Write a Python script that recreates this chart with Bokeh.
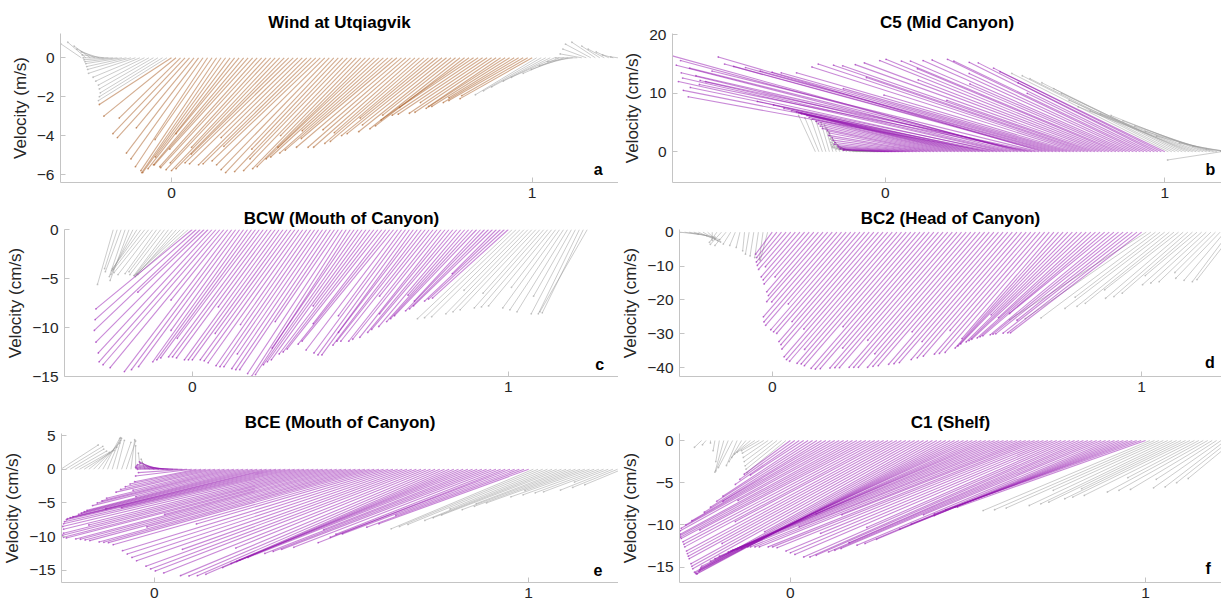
import numpy as np
from bokeh.plotting import figure
from bokeh.models import ColumnDataSource, FixedTicker, Label, Range1d, Title
from bokeh.layouts import column, row
from bokeh.embed import file_html
from bokeh.resources import INLINE

# sample times in hours relative to the start of the event (event lasts 80 h, shown normalised 0..1)
hours = [-20, -19, -18, -17, -16, -15, -14, -13, -12, -11, -10, -9, -8, -7, -6, -5, -4, -3, -2, -1,
         0, 1, 2, 3, 4, 5, 6, 7, 8, 9, 10, 11, 12, 13, 14, 15, 16, 17, 18, 19,
         20, 21, 22, 23, 24, 25, 26, 27, 28, 29, 30, 31, 32, 33, 34, 35, 36, 37, 38, 39,
         40, 41, 42, 43, 44, 45, 46, 47, 48, 49, 50, 51, 52, 53, 54, 55, 56, 57, 58, 59,
         60, 61, 62, 63, 64, 65, 66, 67, 68, 69, 70, 71, 72, 73, 74, 75, 76, 77, 78, 79,
         80, 81, 82, 83, 84, 85, 86, 87, 88, 89, 90, 91, 92, 93, 94, 95, 96, 97, 98, 99, 100]
EVENT_HOURS = 80
U_SCALE = 0.01  # stick length along the time axis per unit of the east component

# ---- a: wind at Utqiagvik (m/s)
u_a = [-5.7, -5, -4.5, -5, -5, -6, -7, -8, -9, -10,
       -11, -12, -13, -13, -13.5, -14, -15, -16, -17.5, -19,
       -20, -20, -17, -20, -20, -16, -20, -20, -20, -15.8,
       -21, -22, -23, -20.7, -24, -17.5, -25, -26, -23, -27,
       -28, -26.6, -29, -23.2, -30, -30, -27, -30, -30, -22.5,
       -30, -30, -25.5, -30, -30, -30, -30, -24, -30, -27,
       -30, -21, -30, -30, -25.5, -30, -30, -22.5, -30, -29.7,
       -26.5, -29.1, -23, -28.4, -28.1, -23.6, -27.5, -27.2, -20.2, -26.6,
       -26.3, -23.3, -25.6, -20.2, -25, -24.7, -24.4, -20.5, -23.8, -23.4,
       -18.5, -22.8, -22.5, -20, -21.9, -21.6, -18.1, -20.9, -20.6, -18.3,
       -20,
       -17, -16, -15, -13, -12, -10, -9, -8, -7, -6,
       -6, -6.5, -7, -6.5, -5, -4.5, -3.5, -3, -2, -1]
v_a = [0.72, 0.8, 0.6, 0.45, 0.3, 0.15, 0.0, -0.1, -0.2, -0.3,
       -0.45, -0.6, -0.8, -1.0, -1.2, -1.4, -1.6, -1.8, -2.0, -2.2,
       -2.4, -3.0, -3.1, -3.9, -4.1, -3.6, -4.9, -5.2, -5.6, -4.2,
       -5.8, -5.9, -5.9, -5.1, -5.7, -3.9, -5.5, -5.5, -4.7, -5.6,
       -5.65, -5.4, -5.75, -4.6, -5.8, -5.7, -4.95, -5.4, -5.45, -4.1,
       -5.5, -5.45, -4.55, -5.3, -5.5, -5.75, -5.9, -4.7, -5.85, -5.2,
       -5.8, -4.0, -5.7, -5.6, -4.6, -5.2, -5.1, -3.75, -4.9, -4.75,
       -4.15, -4.6, -3.7, -4.6, -4.6, -3.85, -4.4, -4.3, -3.1, -4.0,
       -3.9, -3.45, -3.8, -2.95, -3.65, -3.5, -3.2, -2.55, -2.95, -2.9,
       -2.3, -2.85, -2.8, -2.5, -2.6, -2.5, -2.05, -2.3, -2.2, -1.95,
       -2.1,
       -1.9, -1.7, -1.5, -1.2, -1.0, -0.8, -0.6, -0.4, -0.2, 0.0,
       0.2, 0.45, 0.7, 0.8, 0.6, 0.45, 0.3, 0.15, 0.05, 0.0]

# ---- b: C5 (Mid Canyon), cm/s
u_b = [-6, -5, -4, -3.5, -3, -3, -3.5, -4, -5, -6,
       -7, -8, -9, -10, -10, -10, -10, -10, -10, -10,
       -15, -16, -17.5, -20, -21, -23, -24.5, -27, -28, -30,
       -31.5, -34, -35, -37, -40, -42, -44, -46, -48.5, -51,
       -53, -55, -57.5, -59, -61, -63, -66, -70, -75, -82,
       -108, -111, -114, -111, -115, -110, -118, -121, -123.7, -122,
       -120, -119, -119, -118, -117, -116, -115, -113, -110, -106,
       -103, -101, -80, -98, -68, -95, -94, -78, -91, -89,
       -53, -87, -85, -67, -82, -81, -71, -78, -76, -56,
       -74, -72, -60, -69, -68, -43, -65, -63, -50, -60,
       -59,
       -56, -53.5, -52, -49, -46, -44.5, -43, -41, -38, -35.5,
       -33, -30, -27, -24.5, -21.75, -19, -16, -12.5, -9, -5]
v_b = [6.2, 5.8, 5.5, 5.2, 5.0, 4.6, 4.0, 3.4, 2.8, 2.2,
       1.6, 1.2, 0.9, 0.7, 0.5, 0.4, 0.3, 0.25, 0.2, 0.2,
       0.3, 0.35, 0.4, 0.5, 0.6, 0.8, 1.0, 1.3, 1.6, 2.0,
       2.4, 2.8, 3.2, 3.6, 4.0, 4.4, 4.8, 5.2, 5.6, 5.9,
       6.2, 6.4, 6.5, 6.6, 6.7, 6.8, 7.0, 7.4, 8.0, 8.6,
       9.4, 10.5, 12.0, 11.0, 12.6, 12.2, 13.5, 14.8, 16.4, 15.6,
       14.3, 13.0, 11.5, 12.0, 13.8, 16.2, 15.0, 14.6, 14.4, 13.8,
       13.6, 13.5, 10.8, 13.5, 9.7, 14.5, 15.0, 12.7, 14.8, 14.7,
       8.8, 14.9, 15.2, 12.3, 15.6, 15.8, 14.2, 15.5, 15.5, 11.6,
       15.6, 15.7, 13.4, 15.8, 15.5, 10.0, 15.3, 15.2, 11.8, 14.3,
       13.7,
       13.4, 13.0, 12.5, 11.8, 10.8, 10.0, 8.8, 7.7, 7.0, 6.5,
       6.2, 5.3, 4.4, 3.5, 2.7, -1.4, 1.5, 1.0, 0.5, 0.1]

# ---- c: BCW (Mouth of Canyon), cm/s
u_c = [-5, -4, -5, -5, -6, -7, -8, -9, -10, -11,
       -11, -10, -10, -11, -11, -12, -13, -14, -15, -16,
       -30.5, -32, -33.5, -21, -35.5, -36, -37, -37, -36, -18,
       -34, -33, -32, -23, -30, -30, -30, -26, -30, -30,
       -30, -18, -30, -30, -30, -24, -30, -30, -30, -21,
       -30, -30, -30, -27, -30, -30, -30, -20, -30, -30,
       -30, -26, -30, -30, -30, -18, -30, -30, -30, -23,
       -29, -29, -29, -20, -29, -29, -29, -25, -28, -28,
       -28, -17, -28, -28, -27, -22, -27, -27, -26, -18,
       -26, -26, -26, -21, -25, -25, -25, -14, -24, -24,
       -24,
       -30, -29, -28, -19, -26, -25, -24, -18, -22, -21,
       -20, -14, -18, -17, -16, -12, -14, -13, -13, -15]
v_c = [-5.6, -4.0, -4.3, -4.8, -5.2, -4.6, -4.2, -4.0, -4.1, -4.4,
       -4.6, -4.5, -4.3, -4.6, -4.7, -4.7, -4.8, -4.6, -4.5, -4.6,
       -8.1, -9.2, -10.3, -6.4, -11.5, -12.6, -13.5, -13.8, -14.1, -7.2,
       -14.5, -14.3, -14.0, -10.3, -13.5, -13.3, -13.1, -11.1, -13.0, -13.0,
       -13.1, -7.9, -13.3, -13.3, -13.3, -10.6, -13.3, -13.4, -13.6, -9.7,
       -13.9, -14.0, -14.0, -12.7, -14.2, -14.3, -14.3, -9.4, -14.7, -15.0,
       -14.8, -12.1, -13.8, -13.5, -13.3, -7.8, -12.7, -12.5, -12.2, -9.6,
       -11.7, -11.4, -12.3, -8.8, -12.6, -12.8, -12.8, -10.5, -11.8, -11.4,
       -11.4, -6.8, -11.4, -11.2, -11.0, -8.6, -10.5, -10.2, -9.9, -6.7,
       -9.4, -9.1, -8.8, -7.3, -8.3, -8.1, -7.8, -4.5, -7.3, -7.1,
       -7.0,
       -9.1, -9.0, -8.9, -6.2, -8.6, -8.4, -8.2, -6.5, -8.0, -7.9,
       -7.8, -5.9, -8.0, -8.2, -8.4, -6.8, -8.6, -8.6, -8.5, -8.4]

# ---- d: BC2 (Head of Canyon), cm/s
u_d = [5, 6, 7, 7, 6, 4, 2, 0, -2, -3,
       -3, -2, -1.5, -1, -0.5, -1, -1, -1, -1, -2,
       -4.5, -5.5, -6.8, -7.8, -8.7, -8.1, -10.5, -11.2, -12.2, -10.5,
       -14, -14.8, -16.5, -16.4, -19.9, -21, -21.8, -16.9, -22.9, -23.4,
       -23.8, -20.9, -25.7, -26.4, -27.4, -22.7, -29.3, -29.9, -30.3, -27.5,
       -30.8, -30.9, -31.3, -22.1, -32, -32.1, -32, -27.2, -31.9, -31.8,
       -31.8, -25.4, -31.7, -31.7, -31.7, -28.5, -31.7, -31.5, -31.3, -23.4,
       -31, -30.8, -30.6, -25.7, -29.9, -29.5, -29.1, -23.1, -28.6, -28.5,
       -28.2, -24.9, -28, -28.5, -29, -22, -30, -30.5, -31, -25,
       -32, -32.5, -33, -27, -33.5, -34, -34.5, -30, -35, -35,
       -35.5,
       -37, -34, -31, -23, -27, -25, -24, -20, -21, -20,
       -19, -14, -16, -15, -14, -11, -12, -11, -10, -10]
v_d = [-0.6, -1.0, -1.5, -2.2, -2.9, -2.5, -2.0, -2.4, -3.0, -3.6,
       -3.9, -3.5, -3.9, -4.5, -5.5, -6.5, -7.0, -7.5, -8.0, -8.3,
       -6.5, -7.5, -8.8, -9.8, -11.0, -10.2, -13.2, -14.1, -15.3, -13.2,
       -17.6, -18.7, -20.5, -20.6, -25.0, -26.5, -27.5, -21.2, -28.8, -29.4,
       -29.9, -26.4, -32.3, -33.2, -34.5, -28.6, -36.8, -37.6, -38.1, -34.6,
       -38.7, -38.9, -39.4, -27.9, -40.2, -40.4, -40.3, -34.2, -40.1, -40.0,
       -40.0, -31.9, -39.9, -39.9, -39.9, -35.9, -39.9, -39.6, -39.4, -29.4,
       -39.0, -38.8, -38.5, -32.3, -37.6, -37.1, -36.6, -29.0, -36.0, -35.8,
       -35.5, -31.4, -34.2, -33.6, -33.0, -24.4, -32.4, -32.0, -31.6, -25.2,
       -31.2, -30.9, -30.6, -24.0, -30.3, -30.1, -30.0, -26.0, -29.8, -29.7,
       -29.7,
       -25.8, -25.5, -25.3, -19.2, -22.5, -21.9, -21.0, -17.0, -19.5, -19.0,
       -18.0, -12.8, -15.5, -15.0, -14.6, -11.9, -13.6, -14.2, -14.6, -14.0]

# ---- e: BCE (Mouth of Canyon), cm/s
u_e = [10, 10, 9, 8.5, 8, 8, 7.5, 7, 6, 4.5,
       3.5, 2.5, 2, 2.5, 2.5, 1, 0, -0.5, -1, -2,
       -4, -5, -7, -8.5, -10, -11, -12, -13, -15, -16.5,
       -19, -21.5, -24, -26.5, -23.2, -31.5, -34, -36.5, -39, -28.7,
       -43, -45, -47, -49, -43, -53, -55, -57, -58.5, -45,
       -61.5, -63, -64.5, -65.5, -60, -68, -69.5, -70.5, -71, -46,
       -71, -71, -71, -71, -57, -71, -71, -71, -71, -50,
       -71, -71, -71, -71, -60, -71, -71, -71, -70, -52,
       -68, -67, -66, -65, -58, -63, -62, -61, -60, -41,
       -58, -57, -56, -54, -44, -50, -48, -46, -33, -42,
       -40,
       -38, -37, -36, -26, -34, -33, -32, -24, -29, -27,
       -25, -16, -21, -19, -17, -16, -9, -14, -12, -10]
v_e = [3.6, 3.4, 3.0, 2.7, 2.5, 2.8, 3.3, 3.9, 4.3, 4.6,
       4.7, 4.6, 4.3, 4.0, 4.2, 4.4, 3.5, 2.4, 1.5, 1.0,
       1.1, 0.9, 0.7, 0.5, 0.3, 0.15, 0.0, -0.5, -1.0, -1.85,
       -2.2, -2.6, -3.0, -3.4, -3.12, -4.3, -4.7, -5.0, -5.4, -4.06,
       -6.1, -6.3, -6.5, -6.7, -5.87, -7.05, -7.2, -7.35, -7.5, -5.7,
       -7.8, -8.1, -8.5, -8.9, -8.28, -9.5, -9.8, -10.1, -10.2, -6.7,
       -10.35, -10.4, -10.5, -10.6, -8.56, -10.8, -10.85, -10.9, -11.2, -8.12,
       -12.1, -12.6, -13.1, -13.6, -11.9, -14.4, -14.8, -15.1, -15.4, -11.7,
       -15.8, -15.85, -15.8, -15.6, -13.7, -14.6, -14.0, -13.5, -13.1, -8.96,
       -12.5, -12.2, -11.9, -11.6, -9.65, -10.9, -10.1, -9.6, -6.83, -8.6,
       -8.1,
       -8.85, -8.5, -8.2, -5.9, -7.6, -7.2, -6.8, -5.1, -6.0, -5.5,
       -5.0, -3.15, -4.1, -3.8, -3.5, -3.35, -1.9, -3.1, -2.7, -2.3]

# ---- f: C1 (Shelf), cm/s
u_f = [-2, -1, 0, -0.5, -1, -2.5, -3.5, -4, -3, -3.5,
       -4, -4.5, -5, -5, -6, -7, -8, -9, -10, -11,
       -13, -15.5, -18, -15, -24, -27, -30, -33, -29, -39,
       -42, -44.5, -46, -31, -48.5, -50, -51, -52, -48, -54,
       -55, -56, -43, -58, -59, -60, -61, -53, -63, -64,
       -65, -46, -67, -68, -69, -70, -57, -72, -73, -74,
       -75, -68, -75, -75, -75, -49, -75, -75, -75, -75,
       -60, -75, -75, -75, -53, -75, -75, -75, -64, -75,
       -75, -75, -56, -75, -74.5, -74, -66, -73, -72.5, -72,
       -50, -70, -69, -67, -52, -63, -61, -50, -57, -55,
       -53,
       -47, -45, -43, -31, -39, -37, -36, -28, -34, -33,
       -31, -20, -27, -25, -23, -17, -19, -17, -15, -13]
v_f = [-0.8, -0.5, -0.3, -1.2, -2.5, -3.75, -3.6, -3.2, -2.96, -2.5,
       -2.0, -1.6, -1.4, -1.2, -1.5, -2.0, -2.5, -3.0, -3.4, -3.8,
       -4.0, -4.6, -5.2, -4.1, -6.6, -7.2, -7.9, -8.5, -7.2, -9.5,
       -10.0, -10.4, -10.7, -7.1, -11.1, -11.3, -11.45, -11.6, -10.6, -12.0,
       -12.3, -12.6, -9.6, -13.1, -13.4, -13.7, -14.0, -12.2, -14.6, -14.9,
       -15.2, -10.8, -15.6, -15.7, -15.8, -15.8, -12.6, -15.5, -15.3, -15.1,
       -14.9, -13.1, -14.3, -14.0, -13.7, -8.7, -13.2, -13.0, -12.9, -12.8,
       -10.2, -12.6, -12.6, -12.6, -8.8, -12.6, -12.6, -12.7, -11.0, -13.1,
       -13.3, -13.5, -10.3, -13.8, -13.8, -13.6, -12.1, -13.2, -13.0, -12.8,
       -8.8, -12.4, -12.2, -11.7, -8.9, -10.5, -9.9, -7.9, -8.7, -8.2,
       -7.9,
       -8.3, -8.2, -8.0, -5.9, -7.7, -7.5, -7.3, -5.7, -6.9, -6.7,
       -6.5, -4.4, -6.1, -5.9, -5.8, -4.6, -5.6, -5.5, -5.0, -4.5]

for _name, _arr in [("u_a", u_a), ("v_a", v_a), ("u_b", u_b), ("v_b", v_b), ("u_c", u_c), ("v_c", v_c),
                    ("u_d", u_d), ("v_d", v_d), ("u_e", u_e), ("v_e", v_e), ("u_f", u_f), ("v_f", v_f)]:
    if len(_arr) != len(hours):
        raise ValueError(f"{_name} has {len(_arr)} values, expected {len(hours)}")

FONT = "Liberation Sans"
BROWN = "#a8591f"
PURPLE = "#9414b0"
GREY = "#9a9a9a"
AXIS_GREY = "#c4c4c4"
TEXT = "#262626"


def panel(title, letter, u, v, color, xr, yr, yticks, ylabel, w, h, bl, bt, bb, letter_xy, toff=0):
    p = figure(width=w, height=h, output_backend="svg", toolbar_location=None,
               x_range=Range1d(*xr), y_range=Range1d(*yr),
               min_border_left=bl, min_border_right=0, min_border_top=bt, min_border_bottom=bb,
               background_fill_color="white", border_fill_color="white")
    p.outline_line_color = None
    p.grid.visible = False
    hrs = np.array(hours, dtype=float)
    t = hrs / EVENT_HOURS
    uu = np.array(u, dtype=float)
    vv = np.array(v, dtype=float)
    xt = t + uu * U_SCALE
    ev = (hrs >= 0) & (hrs <= EVENT_HOURS)
    for mask, col, alpha, lw in [(~ev, GREY, 0.5, 1.0), (ev, color, 0.5, 1.1)]:
        src = ColumnDataSource(dict(x0=t[mask], y0=np.zeros(mask.sum()), x1=xt[mask], y1=vv[mask]))
        p.segment("x0", "y0", "x1", "y1", source=src, line_color=col, line_alpha=alpha, line_width=lw)
        p.scatter("x1", "y1", source=src, size=1.8, marker="circle", fill_color=col, line_color=None,
                  fill_alpha=0.55)
    p.title = Title(text=title, align="center", text_font=FONT, text_font_size="17px",
                    text_font_style="bold", text_color="black", standoff=3, offset=toff)
    for ax in (p.xaxis[0], p.yaxis[0]):
        ax.axis_line_color = AXIS_GREY
        ax.major_tick_line_color = AXIS_GREY
        ax.major_tick_in = 5
        ax.major_tick_out = 0
        ax.minor_tick_line_color = None
        ax.major_label_text_font = FONT
        ax.major_label_text_font_size = "15.5px"
        ax.major_label_text_color = TEXT
    p.xaxis.ticker = FixedTicker(ticks=[0, 1])
    p.xaxis.major_label_standoff = 5
    p.yaxis.ticker = FixedTicker(ticks=yticks)
    p.yaxis.major_label_standoff = 6
    p.yaxis.axis_label = ylabel
    p.yaxis.axis_label_text_font = FONT
    p.yaxis.axis_label_text_font_size = "17px"
    p.yaxis.axis_label_text_font_style = "normal"
    p.yaxis.axis_label_text_color = TEXT
    p.yaxis.axis_label_standoff = 4
    p.add_layout(Label(x=letter_xy[0], y=letter_xy[1], text=letter, text_font=FONT,
                       text_font_size="16px", text_font_style="bold", text_color="black",
                       text_align="center", text_baseline="middle"))
    return p


pa = panel("Wind at Utqiagvik", "a", u_a, v_a, BROWN, (-0.3077, 1.2393), (-6.411, 1.249),
           [-6, -4, -2, 0], "Velocity (m/s)", 618, 205, 60, 33, 23, (1.183, -5.74))
pb = panel("C5 (Mid Canyon)", "b", u_b, v_b, PURPLE, (-0.7612, 1.2027), (-5.25, 20.22),
           [0, 10, 20], "Velocity (cm/s)", 603, 205, 54, 33, 23, (1.163, -3.03), toff=6)
pc = panel("BCW (Mouth of Canyon)", "c", u_c, v_c, PURPLE, (-0.4044, 1.3487), (-15.0, 0.0),
           [-15, -10, -5, 0], "Velocity (cm/s)", 618, 200, 64, 22, 29, (1.289, -13.8))
pd_ = panel("BC2 (Head of Canyon)", "d", u_d, v_d, PURPLE, (-0.2511, 1.2163), (-42.6, 0.79),
            [-40, -30, -20, -10, 0], "Velocity (cm/s)", 603, 200, 54, 24, 28, (1.185, -38.4), toff=6)
pe = panel("BCE (Mouth of Canyon)", "e", u_e, v_e, PURPLE, (-0.248, 1.24), (-16.82, 5.31),
           [-15, -10, -5, 0, 5], "Velocity (cm/s)", 618, 200, 60, 28, 23, (1.185, -14.9))
pf = panel("C1 (Shelf)", "f", u_f, v_f, PURPLE, (-0.3122, 1.2138), (-16.82, 0.83),
           [-15, -10, -5, 0], "Velocity (cm/s)", 603, 200, 54, 28, 23, (1.176, -15.2), toff=6)

layout = column(row(pa, pb), row(pc, pd_), row(pe, pf))
open("out.html", "w").write(file_html(layout, INLINE))
